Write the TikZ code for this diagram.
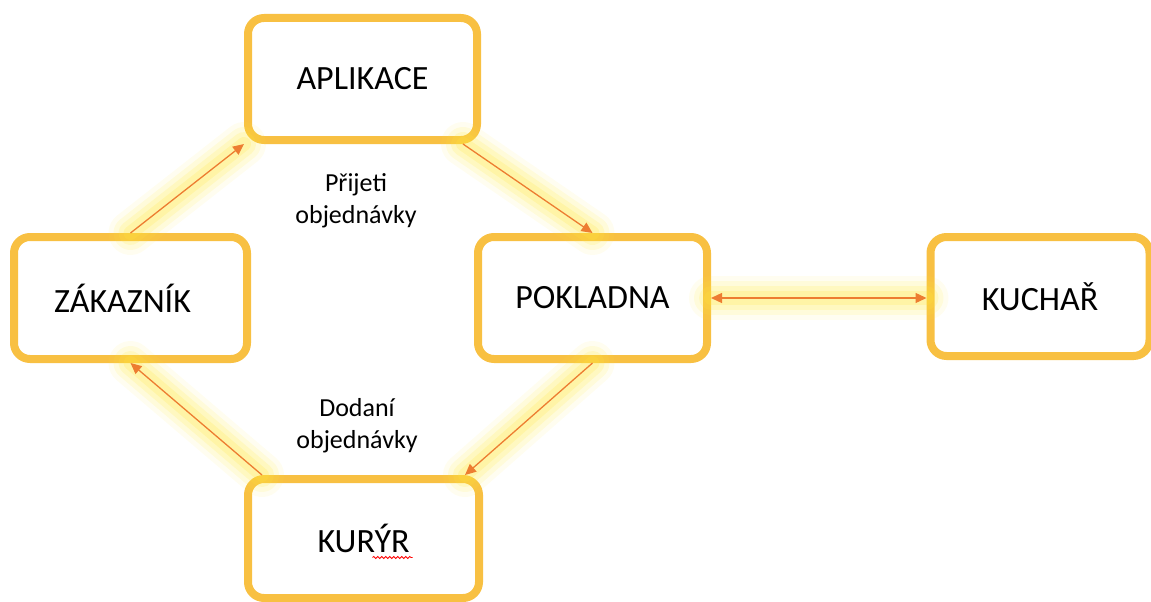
\documentclass[tikz,border=0pt]{standalone}
\usepackage{fontspec}
\setmainfont{Carlito}
\usetikzlibrary{arrows.meta,decorations.pathmorphing}

\definecolor{boxgold}{RGB}{248,192,66}
\definecolor{arrorange}{RGB}{237,125,49}
\definecolor{glowyellow}{RGB}{255,232,60}

\begin{document}
\begin{tikzpicture}[
      x=1pt, y=-1pt,
      role/.style={
        rectangle, rounded corners=16pt, draw=boxgold, line width=8pt,
        font=\fontsize{34}{40}\selectfont, text=black
      },
      flow/.style={
        -{Triangle[length=11pt,width=10pt]}, arrorange, line width=1.3pt,
        preaction={draw=glowyellow, -, line width=44pt, line cap=round, opacity=0.08},
        preaction={draw=glowyellow, -, line width=34pt, line cap=round, opacity=0.12},
        preaction={draw=glowyellow, -, line width=24pt, line cap=round, opacity=0.16},
        preaction={draw=glowyellow, -, line width=14pt, line cap=round, opacity=0.20}
      },
      bothflow/.style={
        flow, {Triangle[length=11pt,width=10pt]}-{Triangle[length=11pt,width=10pt]}
      },
      lblstyle/.style={font=\fontsize{26}{32}\selectfont, align=center}
    ]
    \useasboundingbox (0,0) rectangle (1151,602);

    % The five roles.
    \node[role, minimum width=229pt, minimum height=122pt] (apl) at (362.5, 79)  {APLIKACE};
    \node[role, minimum width=233pt, minimum height=122pt] (zak) at (130.5, 298) {ZÁKAZNÍK\hspace*{16pt}};
    \node[role, minimum width=229pt, minimum height=122pt] (pok) at (592.5, 298) {POKLADNA};
    \node[role, minimum width=219pt, minimum height=119pt] (kuc) at (1040, 296.5) {KUCHAŘ};
    \node[role, minimum width=231pt, minimum height=119pt] (kur) at (363.5, 538.5) {KURÝR};

    % Order flow round the loop.
    \draw[flow] (zak.north) -- (apl.south west);
    \draw[flow] ([xshift=-18pt]apl.south east) -- (pok.north);
    \draw[flow] (pok.south) -- ([xshift=-18pt]kur.north east);
    \draw[flow] ([xshift=18pt]kur.north west) -- (zak.south);
    \draw[bothflow] (pok.east) -- (pok.east -| kuc.west);

    % Edge texts.
    \node[lblstyle] (lblpri) at (356, 201) {Přijeti\\objednávky};
    \node[lblstyle] (lbldod) at (357, 426) {Dodaní\\objednávky};

    % Spell-check squiggle under the courier.
    \draw[red, line width=0.8pt, decorate,
          decoration={snake, amplitude=1pt, segment length=4pt}]
      ([shift={(9,19)}]kur.center) -- ([shift={(49,19)}]kur.center);
  \end{tikzpicture}
\end{document}
